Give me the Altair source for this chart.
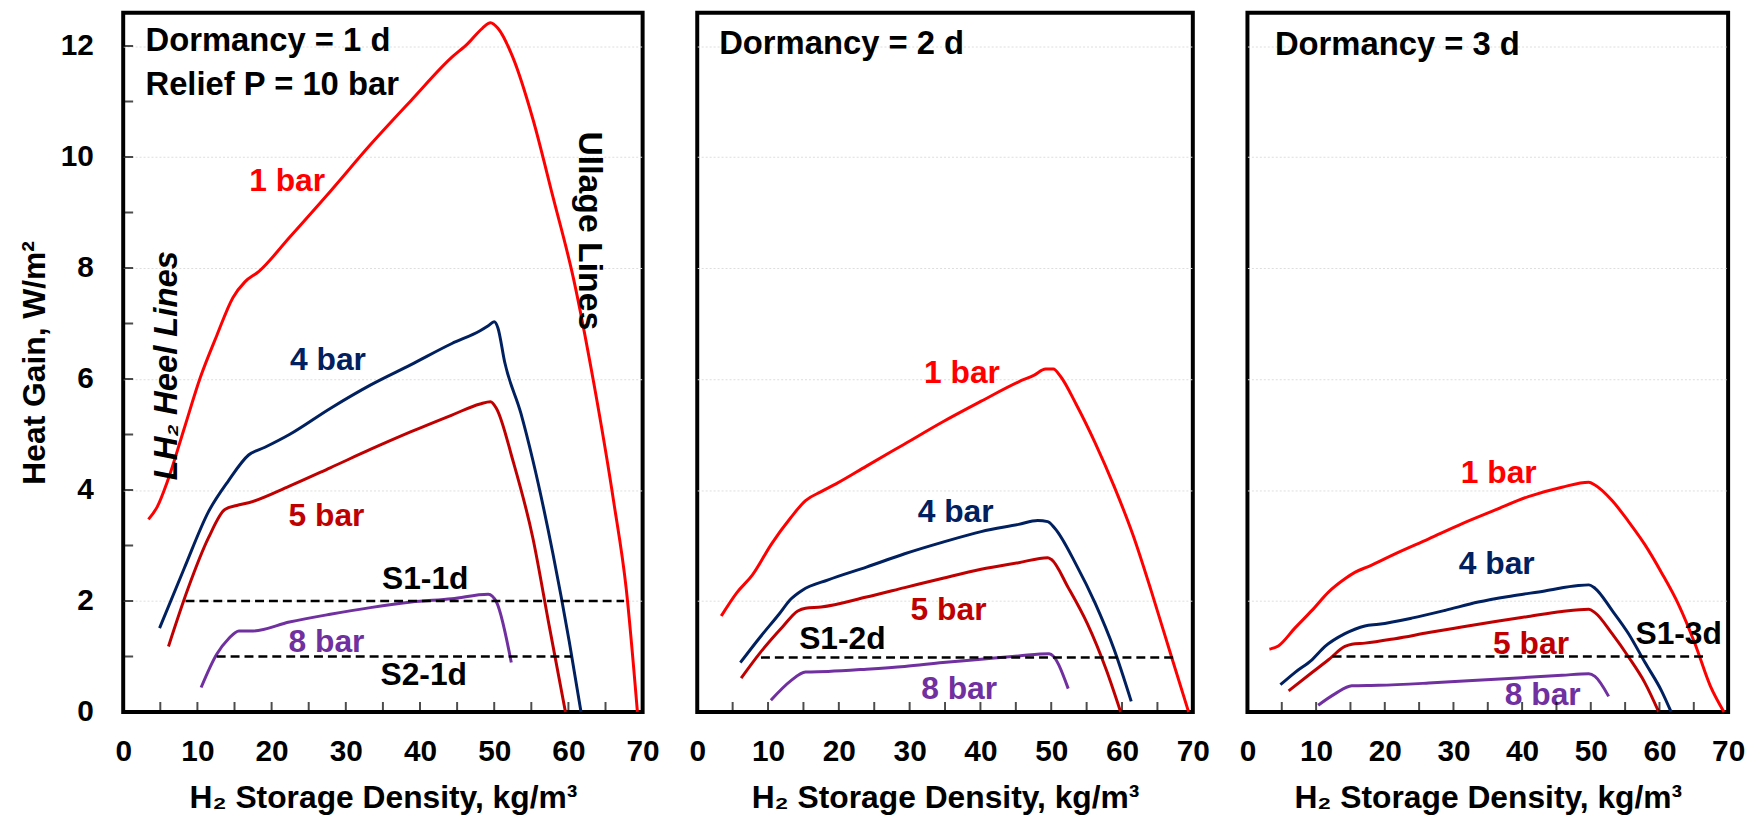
import altair as alt
import pandas as pd

FONT = "Liberation Sans"

# ---------------- Panel 1: Dormancy = 1 d ----------------
p1_1bar_x = [3.4, 4.6, 6.0, 8.2, 10.4, 12.6, 14.8, 16.4, 18.3, 22.4, 27.9, 33.3, 38.8, 44.3, 46.4, 48.4, 49.5, 50.5, 52.5, 55.2, 57.9, 60.7, 63.4, 66.1, 67.8, 69.3]
p1_1bar_y = [3.47, 3.70, 4.17, 5.10, 6.03, 6.78, 7.47, 7.75, 7.94, 8.55, 9.38, 10.22, 11.02, 11.80, 12.04, 12.32, 12.42, 12.32, 11.80, 10.69, 9.29, 7.80, 5.94, 3.79, 2.21, 0.0]
p1_4bar_x = [4.9, 8.2, 11.5, 14.2, 16.9, 19.1, 22.4, 27.9, 33.3, 38.8, 44.3, 48.1, 49.2, 50.0, 50.5, 51.4, 53.6, 55.2, 57.9, 60.1, 61.7]
p1_4bar_y = [1.51, 2.58, 3.61, 4.17, 4.63, 4.77, 5.00, 5.47, 5.89, 6.26, 6.64, 6.87, 6.96, 7.03, 6.92, 6.31, 5.38, 4.54, 2.86, 1.28, 0.0]
p1_5bar_x = [6.1, 8.7, 11.5, 13.7, 15.3, 16.9, 22.4, 27.9, 33.3, 38.8, 44.3, 48.1, 49.5, 50.3, 52.5, 55.2, 57.4, 59.6]
p1_5bar_y = [1.18, 2.21, 3.14, 3.65, 3.72, 3.77, 4.07, 4.40, 4.73, 5.05, 5.35, 5.55, 5.59, 5.47, 4.54, 3.14, 1.56, 0.0]
p1_8bar_x = [10.5, 12.6, 14.2, 15.6, 17.5, 22.4, 27.9, 33.3, 38.8, 44.3, 49.2, 50.3, 52.3]
p1_8bar_y = [0.44, 1.04, 1.32, 1.46, 1.46, 1.62, 1.76, 1.88, 1.98, 2.04, 2.12, 1.98, 0.89]
p1_dash_y = [2.0, 1.0]
p1_dash_x1 = [8.4, 12.6]
p1_dash_x2 = [67.5, 60.4]

# ---------------- Panel 2: Dormancy = 2 d ----------------
p2_1bar_x = [3.4, 5.6, 7.8, 10.5, 13.2, 15.3, 17.5, 19.6, 23.9, 29.3, 34.7, 40.1, 45.4, 47.6, 49.2, 50.3, 51.3, 53.5, 56.2, 58.9, 61.6, 64.2, 66.9, 69.4]
p2_1bar_y = [1.73, 2.15, 2.47, 3.03, 3.50, 3.81, 3.97, 4.11, 4.43, 4.83, 5.23, 5.60, 5.95, 6.07, 6.18, 6.18, 6.05, 5.55, 4.85, 4.06, 3.17, 2.15, 1.03, 0.0]
p2_4bar_x = [6.1, 8.9, 11.6, 13.2, 14.8, 18.5, 23.9, 29.3, 34.7, 40.1, 45.4, 48.1, 49.5, 50.5, 53.5, 56.2, 58.9, 61.3]
p2_4bar_y = [0.89, 1.35, 1.77, 2.03, 2.19, 2.38, 2.61, 2.85, 3.06, 3.25, 3.38, 3.45, 3.43, 3.31, 2.66, 1.96, 1.12, 0.19]
p2_5bar_x = [6.2, 8.9, 12.1, 14.2, 15.3, 17.5, 23.9, 29.3, 34.7, 40.1, 45.4, 49.5, 50.0, 52.4, 55.1, 57.8, 59.8]
p2_5bar_y = [0.61, 1.07, 1.54, 1.82, 1.87, 1.89, 2.07, 2.24, 2.41, 2.57, 2.69, 2.78, 2.75, 2.24, 1.59, 0.75, 0.0]
p2_8bar_x = [10.4, 13.2, 15.3, 18.5, 23.9, 29.3, 34.7, 40.1, 45.4, 49.7, 52.4]
p2_8bar_y = [0.21, 0.56, 0.72, 0.73, 0.77, 0.82, 0.89, 0.95, 1.01, 1.05, 0.42]
p2_dash_y = [0.98]
p2_dash_x1 = [9.0]
p2_dash_x2 = [67.5]

# ---------------- Panel 3: Dormancy = 3 d ----------------
p3_1bar_x = [3.2, 4.5, 6.9, 9.4, 11.8, 14.2, 15.7, 17.6, 21.5, 26.4, 31.2, 36.1, 40.9, 45.8, 49.7, 50.6, 53.1, 55.5, 57.9, 60.3, 62.8, 65.2, 67.4, 69.4]
p3_1bar_y = [1.13, 1.19, 1.51, 1.83, 2.16, 2.40, 2.52, 2.62, 2.85, 3.12, 3.39, 3.64, 3.88, 4.05, 4.14, 4.09, 3.81, 3.43, 3.01, 2.51, 1.93, 1.22, 0.47, 0.0]
p3_4bar_x = [4.8, 6.9, 9.4, 11.3, 14.2, 17.1, 19.1, 23.9, 28.8, 33.6, 38.5, 43.3, 48.2, 49.7, 50.6, 53.1, 55.5, 57.9, 60.3, 61.7]
p3_4bar_y = [0.49, 0.71, 0.94, 1.18, 1.41, 1.55, 1.58, 1.69, 1.83, 1.98, 2.09, 2.18, 2.28, 2.29, 2.23, 1.83, 1.41, 0.89, 0.38, 0.0]
p3_5bar_x = [6.0, 9.4, 11.8, 14.2, 15.2, 17.1, 21.5, 26.4, 31.2, 36.1, 40.9, 45.8, 49.7, 50.6, 53.1, 55.5, 57.9, 59.9]
p3_5bar_y = [0.38, 0.71, 0.94, 1.18, 1.22, 1.24, 1.32, 1.43, 1.53, 1.63, 1.72, 1.81, 1.85, 1.79, 1.41, 0.99, 0.52, 0.0]
p3_8bar_x = [10.3, 12.8, 15.2, 19.1, 26.4, 36.1, 45.8, 49.7, 50.6, 52.6]
p3_8bar_y = [0.12, 0.33, 0.47, 0.48, 0.52, 0.59, 0.66, 0.69, 0.64, 0.28]
p3_dash_y = [1.0]
p3_dash_x1 = [12.4]
p3_dash_x2 = [66.7]

# ---------------- Labels ----------------
SERIES = ["1 bar", "4 bar", "5 bar", "8 bar"]
SERIES_COLORS = ["#FF0000", "#002060", "#C00000", "#7030A0"]

p1_lab_text = ["1 bar", "4 bar", "5 bar", "8 bar", "S1-1d", "S2-1d"]
p1_lab_x = [22.1, 27.6, 27.4, 27.4, 40.7, 40.5]
p1_lab_y = [9.57, 6.34, 3.53, 1.26, 2.40, 0.67]
p1_head_text = ["Dormancy = 1 d", "Relief P = 10 bar"]
p1_head_x = [3.0, 3.0]
p1_head_y = [12.09, 11.3]

p2_lab_text = ["1 bar", "4 bar", "5 bar", "8 bar", "S1-2d"]
p2_lab_x = [37.4, 36.5, 35.5, 37.0, 20.5]
p2_lab_y = [6.11, 3.61, 1.84, 0.42, 1.31]
p2_head_text = ["Dormancy = 2 d"]
p2_head_x = [3.1]
p2_head_y = [12.04]

p3_lab_text = ["1 bar", "4 bar", "5 bar", "8 bar", "S1-3d"]
p3_lab_x = [36.6, 36.3, 41.3, 43.0, 62.8]
p3_lab_y = [4.30, 2.66, 1.22, 0.30, 1.41]
p3_head_text = ["Dormancy = 3 d"]
p3_head_x = [4.0]
p3_head_y = [12.01]

heel_text = ["LH\u2082 Heel Lines"]
heel_x = [5.9]
heel_y = [6.24]
ullage_text = ["Ullage Lines"]
ullage_x = [62.7]
ullage_y = [8.67]

X_LABELS = [0, 10, 20, 30, 40, 50, 60, 70]
X_TICKS = [5, 10, 15, 20, 25, 30, 35, 40, 45, 50, 55, 60, 65]
Y_LABELS = [0, 2, 4, 6, 8, 10, 12]
Y_TICKS = [1, 2, 3, 4, 5, 6, 7, 8, 9, 10, 11, 12]

X_TITLE = "H\u2082 Storage Density, kg/m\u00b3"
Y_TITLE = "Heat Gain, W/m\u00b2"

COLOR_OF = dict(zip(SERIES, SERIES_COLORS))
GRID_OPACITY = {"condition": {"test": "datum.value === 0", "value": 0}, "value": 1}


def lines_df(series):
    frames = []
    for name, xs, ys in series:
        frames.append(pd.DataFrame({"x": xs, "y": ys, "series": name, "order": list(range(len(xs)))}))
    return pd.concat(frames, ignore_index=True)


def labels_df(texts, xs, ys):
    return pd.DataFrame({"x": xs, "y": ys, "text": texts,
                         "color": [COLOR_OF.get(t, "#000000") for t in texts]})


def panel(series, dash_y, dash_x1, dash_x2, lab, head, width, first):
    xs = alt.Scale(domain=[0, 70], nice=False, zero=False)
    ys = alt.Scale(domain=[0, 12.6], nice=False, zero=False)
    xaxis = alt.Axis(values=X_LABELS, format="d", title=X_TITLE, labelPadding=25,
                     titlePadding=16, labelFlush=False)
    if first:
        yaxis = alt.Axis(values=Y_LABELS, format="d", title=Y_TITLE, labelPadding=30,
                         titlePadding=9, labelFlush=False, gridOpacity=GRID_OPACITY)
    else:
        yaxis = alt.Axis(values=Y_LABELS, title=None, labels=False, gridOpacity=GRID_OPACITY)
    X = alt.X("x:Q", scale=xs, axis=xaxis)
    Y = alt.Y("y:Q", scale=ys, axis=yaxis)

    lines = alt.Chart(lines_df(series)).mark_line(strokeWidth=3, interpolate="monotone").encode(
        x=X, y=Y,
        color=alt.Color("series:N", scale=alt.Scale(domain=SERIES, range=SERIES_COLORS), legend=None),
        order="order:Q",
    )
    dashes = alt.Chart(pd.DataFrame({"x": dash_x1, "x2": dash_x2, "y": dash_y})).mark_rule(
        strokeDash=[9, 5], strokeWidth=2.5, color="black"
    ).encode(x=X, x2="x2:Q", y=Y)

    texts = alt.Chart(labels_df(*lab)).mark_text(
        font=FONT, fontSize=32, fontWeight="bold", align="center", baseline="middle"
    ).encode(x=X, y=Y, text="text:N", color=alt.Color("color:N", scale=None))
    heads = alt.Chart(labels_df(*head)).mark_text(
        font=FONT, fontSize=33, fontWeight="bold", align="left", baseline="middle", color="black"
    ).encode(x=X, y=Y, text="text:N")

    xt = alt.Chart(pd.DataFrame({"x": X_TICKS})).mark_tick(
        orient="vertical", size=20, thickness=2, color="black", clip=True
    ).encode(x=X, y=alt.datum(0))

    layers = [lines, dashes, texts, heads, xt]
    if first:
        yt = alt.Chart(pd.DataFrame({"y": Y_TICKS})).mark_tick(
            orient="horizontal", size=20, thickness=2, color="black", clip=True
        ).encode(y=Y, x=alt.datum(0))
        heel = alt.Chart(labels_df(heel_text, heel_x, heel_y)).mark_text(
            font=FONT, fontSize=33, fontWeight="bold", fontStyle="italic", angle=270,
            align="center", baseline="middle", color="black"
        ).encode(x=X, y=Y, text="text:N")
        ull = alt.Chart(labels_df(ullage_text, ullage_x, ullage_y)).mark_text(
            font=FONT, fontSize=34, fontWeight="bold", angle=90,
            align="center", baseline="middle", color="black"
        ).encode(x=X, y=Y, text="text:N")
        layers += [yt, heel, ull]
    return alt.layer(*layers).properties(width=width, height=704)


c1 = panel(
    [("1 bar", p1_1bar_x, p1_1bar_y), ("4 bar", p1_4bar_x, p1_4bar_y),
     ("5 bar", p1_5bar_x, p1_5bar_y), ("8 bar", p1_8bar_x, p1_8bar_y)],
    p1_dash_y, p1_dash_x1, p1_dash_x2,
    (p1_lab_text, p1_lab_x, p1_lab_y), (p1_head_text, p1_head_x, p1_head_y), 523, True)
c2 = panel(
    [("1 bar", p2_1bar_x, p2_1bar_y), ("4 bar", p2_4bar_x, p2_4bar_y),
     ("5 bar", p2_5bar_x, p2_5bar_y), ("8 bar", p2_8bar_x, p2_8bar_y)],
    p2_dash_y, p2_dash_x1, p2_dash_x2,
    (p2_lab_text, p2_lab_x, p2_lab_y), (p2_head_text, p2_head_x, p2_head_y), 499, False)
c3 = panel(
    [("1 bar", p3_1bar_x, p3_1bar_y), ("4 bar", p3_4bar_x, p3_4bar_y),
     ("5 bar", p3_5bar_x, p3_5bar_y), ("8 bar", p3_8bar_x, p3_8bar_y)],
    p3_dash_y, p3_dash_x1, p3_dash_x2,
    (p3_lab_text, p3_lab_x, p3_lab_y), (p3_head_text, p3_head_x, p3_head_y), 484, False)

chart = alt.hconcat(c1, c2, c3, spacing=55, bounds="flush").properties(
    padding={"left": 8, "top": 0, "right": 0, "bottom": 0},
    background="white",
).configure_view(
    stroke="black", strokeWidth=4
).configure_axis(
    labelFont=FONT, labelFontSize=30, labelFontWeight="bold", labelColor="black",
    titleFont=FONT, titleFontSize=32, titleFontWeight="bold", titleColor="black",
    domain=False, ticks=False,
).configure_axisX(
    grid=False
).configure_axisY(
    grid=True, gridColor="#dedede", gridDash=[2, 2], gridWidth=1
)

chart.save("out.html", embed_options={"renderer": "svg", "actions": False})
